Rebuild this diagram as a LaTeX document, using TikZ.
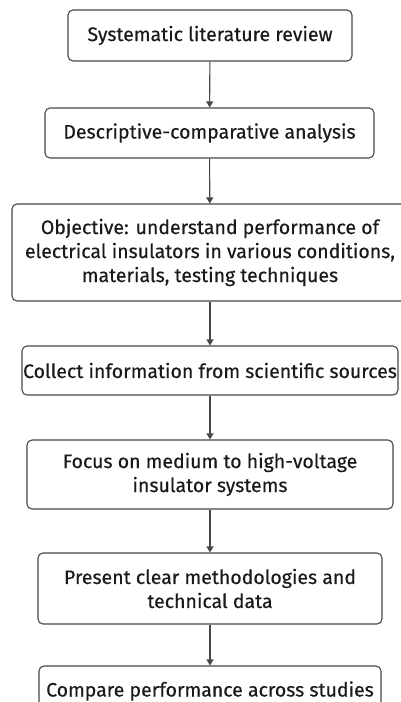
\documentclass[tikz,border=0pt]{standalone}
\usepackage{fontspec}
\setmainfont{Fira Sans}
\newfontfamily\boxfont{Fira Sans}[FakeBold=0.4]
\usetikzlibrary{arrows.meta}
\definecolor{linegray}{HTML}{474747}
\definecolor{textgray}{HTML}{1A1A1A}
\tikzset{
	stepbox/.style={draw=linegray, line width=1.1pt, rounded corners=5pt, align=center,
		font=\boxfont\fontsize{19.5}{24}\selectfont, text=textgray, inner sep=0pt},
	flow/.style={-{Triangle[length=6pt,width=7pt]}, draw=linegray, line width=1.1pt}
}

\begin{document}
\begin{tikzpicture}[x=1pt,y=1pt]
			\useasboundingbox (0,0) rectangle (401,-702);
			\clip (0,0) rectangle (401,-702);
			\node	(review) at (210,-35.5) [stepbox, minimum width=284pt, minimum height=51pt] {Systematic literature review};
			\node	(analysis) at (209.5,-133) [stepbox, minimum width=329pt, minimum height=50pt] {Descriptive-comparative analysis};
			\node	(objective) at (210,-252.5) [stepbox, minimum width=396pt, minimum height=97pt] {Objective: understand performance of\\electrical insulators in various conditions,\\materials, testing techniques};
			\node	(collect) at (210,-370.5) [stepbox, minimum width=376pt, minimum height=49pt] {Collect information from scientific sources};
			\node	(focus) at (210,-474.5) [stepbox, minimum width=366pt, minimum height=69pt] {Focus on medium to high-voltage\\insulator systems};
			\node	(present) at (210,-588.5) [stepbox, minimum width=344pt, minimum height=71pt] {Present clear methodologies and\\technical data};
			\node	(compare) at (210,-691) [stepbox, minimum width=342pt, minimum height=50pt] {Compare performance across studies};
			\draw
			(review) edge[flow] (analysis)
			(analysis) edge[flow] (objective)
			(objective) edge[flow] (collect)
			(collect) edge[flow] (focus)
			(focus) edge[flow] (present)
			(present) edge[flow] (compare)
			;
		\end{tikzpicture}
\end{document}
